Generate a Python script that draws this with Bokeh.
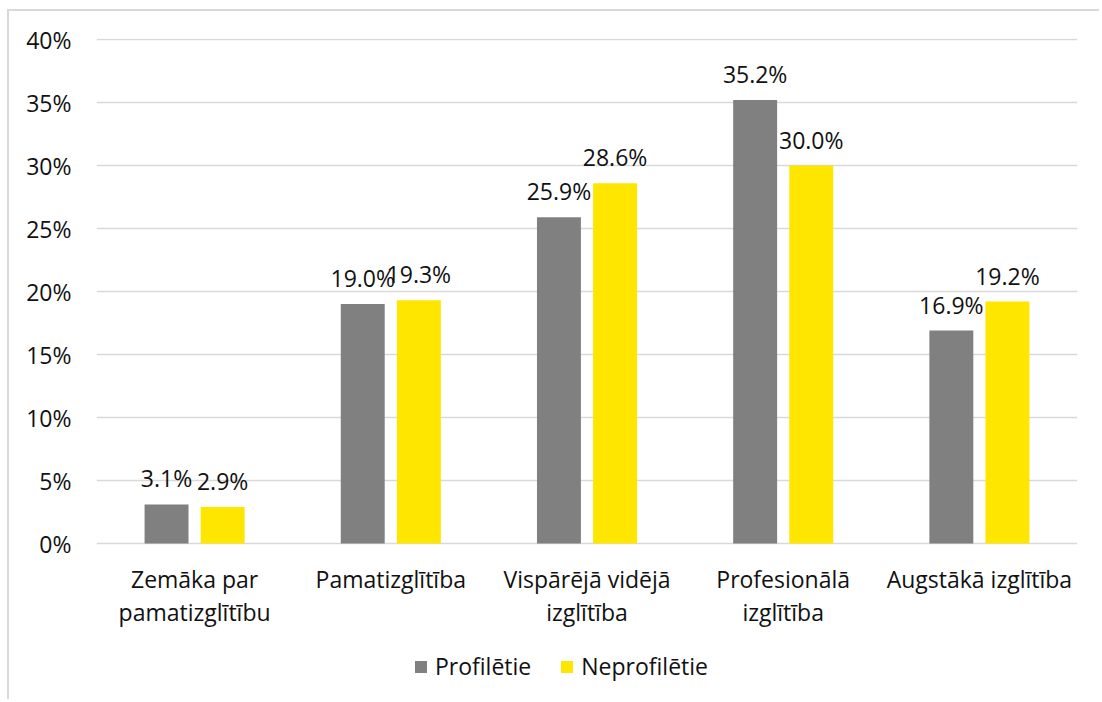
from bokeh.plotting import figure
from bokeh.models import (ColumnDataSource, FactorRange, Range1d, LabelSet,
                          Legend, LegendItem, FixedTicker)
from bokeh.core.properties import value
from bokeh.transform import dodge
from bokeh.embed import file_html
from bokeh.resources import INLINE

# ---- data ----
categories = ["Zemāka par\npamatizglītību", "Pamatizglītība",
              "Vispārējā vidējā\nizglītība", "Profesionālā\nizglītība",
              "Augstākā izglītība"]
series_names = ["Profilētie", "Neprofilētie"]
profiletie = [3.1, 19.0, 25.9, 35.2, 16.9]
neprofiletie = [2.9, 19.3, 28.6, 30.0, 19.2]
y_ticks = [0, 5, 10, 15, 20, 25, 30, 35, 40]
y_tick_labels = ["0%", "5%", "10%", "15%", "20%", "25%", "30%", "35%", "40%"]

line1 = [c.split("\n")[0] for c in categories]
line2 = [c.split("\n")[1] if "\n" in c else "" for c in categories]

FONT = "Open Sans"
FS = "23px"
TXT = "#111111"
GRAY = "#808080"
YELLOW = "#FFE600"
GRID = "#d9d9d9"

# layout (pixels)
W, H = 1092, 690
LEFT, RIGHT, TOP = 87, 24, 27
PX_PER_UNIT = 12.6          # 504 px for 40 %
Y_END = 40.08
Y_START = Y_END - (H - TOP) / PX_PER_UNIT

src = ColumnDataSource(dict(
    cat=categories,
    l1=line1,
    l2=line2,
    zero=[0] * len(categories),
    a=profiletie,
    b=neprofiletie,
    a_lbl=[f"{v:.1f}%" for v in profiletie],
    b_lbl=[f"{v:.1f}%" for v in neprofiletie],
))

p = figure(width=W, height=H, x_range=FactorRange(*categories),
           y_range=Range1d(Y_START, Y_END), output_backend="svg",
           toolbar_location=None, x_axis_location=None,
           min_border_left=LEFT, min_border_right=RIGHT, min_border_top=TOP,
           min_border_bottom=0)
p.styles = {"margin-left": "7px", "margin-top": "9px",
            "border-left": "2px solid #d9d9d9", "border-top": "2px solid #d9d9d9"}
p.outline_line_color = None
p.background_fill_color = "white"
p.border_fill_color = "white"

off = 0.143
bw = 0.224
r1 = p.vbar(x=dodge("cat", -off, range=p.x_range), top="a", width=bw, source=src,
            fill_color=GRAY, line_color=None)
r2 = p.vbar(x=dodge("cat", off, range=p.x_range), top="b", width=bw, source=src,
            fill_color=YELLOW, line_color=None)

# value labels
for col, lcol, sign in (("a", "a_lbl", -1), ("b", "b_lbl", 1)):
    p.add_layout(LabelSet(x=dodge("cat", sign * off, range=p.x_range), y=col,
                          text=lcol, source=src, text_align="center",
                          text_baseline="alphabetic", y_offset=17,
                          text_font=value(FONT), text_font_size=value(FS),
                          text_color=value(TXT)))

# category labels (two lines)
for lcol, yoff in (("l1", -44), ("l2", -77)):
    p.add_layout(LabelSet(x="cat", y="zero", text=lcol, source=src,
                          text_align="center", text_baseline="alphabetic",
                          y_offset=yoff, text_font=value(FONT),
                          text_font_size=value(FS), text_color=value(TXT)))

# grid
p.xgrid.grid_line_color = None
p.ygrid.grid_line_color = GRID
p.ygrid.grid_line_width = 1.3
p.ygrid.ticker = FixedTicker(ticks=y_ticks)

# y axis
p.yaxis.ticker = FixedTicker(ticks=y_ticks)
p.yaxis.major_label_overrides = {t: l for t, l in zip(y_ticks, y_tick_labels)}
p.yaxis.axis_line_color = None
p.yaxis.major_tick_line_color = None
p.yaxis.minor_tick_line_color = None
p.yaxis.major_tick_out = 0
p.yaxis.major_tick_in = 0
p.yaxis.major_label_standoff = 25
p.yaxis.major_label_text_font = FONT
p.yaxis.major_label_text_font_size = FS
p.yaxis.major_label_text_color = TXT

legend = Legend(items=[LegendItem(label=series_names[0], renderers=[r1]),
                       LegendItem(label=series_names[1], renderers=[r2])],
                orientation="horizontal", location=(317, 19),
                glyph_width=15, glyph_height=15, label_standoff=7, spacing=28,
                padding=0, margin=0, border_line_color=None,
                background_fill_alpha=0, label_text_font=FONT,
                label_text_font_size=FS, label_text_color=TXT)
p.add_layout(legend, "center")

open("out.html", "w").write(file_html(p, INLINE))
